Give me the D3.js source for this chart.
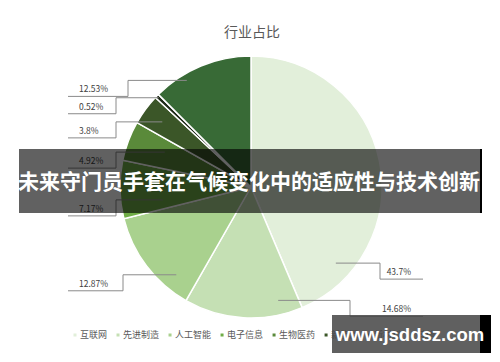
<!DOCTYPE html>
<html>
<head>
<meta charset="utf-8">
<script src="https://cdn.jsdelivr.net/npm/d3@7/dist/d3.min.js"></script>
<style>
  body { margin: 0; background: #fff; }
  svg { display: block; }
</style>
</head>
<body>
<div id="chart"></div>
<script>
// chart data
const categories = ['互联网', '先进制造', '人工智能', '电子信息', '生物医药', '新能源', '新材料', '其他'];
const shares = [43.7, 14.68, 12.87, 7.17, 4.92, 3.8, 0.52, 12.53];
const labels = ['43.7%', '14.68%', '12.87%', '7.17%', '4.92%', '3.8%', '0.52%', '12.53%'];

const title = '行业占比';
const banner = '未来守门员手套在气候变化中的适应性与技术创新';
const watermark = 'www.jsddsz.com';

const SLICE_COLORS = [
  '#e2efda', // 互联网
  '#c5e0b4', // 先进制造
  '#a9d18e', // 人工智能
  '#70ad47', // 电子信息
  '#5a8a3a', // 生物医药
  '#3b5628', // 新能源
  '#1f2a18', // 新材料
  '#386a36', // 其他
];

// leader line spots: t = where inside the slice's angle, f = share of the radius,
// elbow = x offset of the bend from the pie centre
const LEADERS = [
  { t: 0.84, f: 0.87, elbow: 129 },
  { t: 0.18, f: 0.89, elbow: 99 },
  { t: 0.23, f: 0.88, elbow: -128 },
  { t: 0.22, f: 0.68, elbow: -135 },
  { t: 0.58, f: 0.71, elbow: -135 },
  { t: 0.5, f: 0.84, elbow: -135 },
  { t: 0.5, f: 0.98, elbow: -135 },
  { t: 0.31, f: 0.95, elbow: -123 },
];

const width = 500, height = 362;
const cx = 251, cy = 187, radius = 131;
const FONT = '"Noto Sans CJK SC", "Noto Sans", sans-serif';

const svg = d3.select('#chart')
  .append('svg')
  .attr('width', width)
  .attr('height', height)
  .attr('viewBox', [0, 0, width, height]);

svg.append('text')
  .attr('x', 252)
  .attr('y', 37)
  .attr('text-anchor', 'middle')
  .attr('font-family', FONT)
  .attr('font-size', 14)
  .attr('fill', '#595959')
  .text(title);

const pie = d3.pie().sort(null).value((d) => d);
const arcs = pie(shares);
const arc = d3.arc().innerRadius(0).outerRadius(radius);

const g = svg.append('g').attr('transform', `translate(${cx},${cy})`);

g.selectAll('path')
  .data(arcs)
  .join('path')
  .attr('d', arc)
  .attr('fill', (d, i) => SLICE_COLORS[i])
  .attr('stroke', '#fff')
  .attr('stroke-width', 1.5);

// leader lines + percentage labels
const leader = g.append('g');
arcs.forEach((d, i) => {
  const spot = LEADERS[i];
  const a = d.startAngle + (d.endAngle - d.startAngle) * spot.t;
  const px = Math.sin(a) * radius * spot.f;
  const py = -Math.cos(a) * radius * spot.f;
  const underY = py + 16;
  const left = spot.elbow < 0;
  const outerX = left ? -183 : 172;

  leader.append('path')
    .attr('d', `M${px},${py}H${spot.elbow}V${underY}H${outerX}`)
    .attr('fill', 'none')
    .attr('stroke', '#8a8a8a')
    .attr('stroke-width', 1);

  leader.append('text')
    .attr('x', left ? -172 : 160)
    .attr('y', underY - 4)
    .attr('text-anchor', left ? 'start' : 'end')
    .attr('font-family', FONT)
    .attr('font-size', 8.5)
    .attr('fill', '#404040')
    .text(labels[i]);
});

// legend
const legend = svg.append('g').attr('transform', 'translate(75,335)');
let lx = 0;
categories.forEach((name, i) => {
  const item = legend.append('g').attr('transform', `translate(${lx},0)`);
  item.append('rect')
    .attr('x', -1.5).attr('y', -1.5)
    .attr('width', 3).attr('height', 3)
    .attr('fill', SLICE_COLORS[i]);
  const t = item.append('text')
    .attr('x', 5)
    .attr('y', 3)
    .attr('font-family', FONT)
    .attr('font-size', 9)
    .attr('fill', '#595959')
    .text(name);
  lx += 5 + t.node().getComputedTextLength() + 11;
});

// dark banner across the chart
svg.append('rect')
  .attr('x', 19).attr('y', 149)
  .attr('width', 461).attr('height', 64)
  .attr('fill', 'rgba(0,0,0,0.62)');
svg.append('rect')
  .attr('x', 480).attr('y', 149)
  .attr('width', 2).attr('height', 64)
  .attr('fill', '#000');
svg.append('text')
  .attr('x', 249)
  .attr('y', 189)
  .attr('text-anchor', 'middle')
  .attr('font-family', FONT)
  .attr('font-weight', 700)
  .attr('font-size', 21)
  .attr('fill', '#fff')
  .text(banner);

// watermark box
svg.append('rect')
  .attr('x', 332).attr('y', 315)
  .attr('width', 148).attr('height', 38)
  .attr('fill', 'rgba(70,70,70,0.86)');
svg.append('rect')
  .attr('x', 480).attr('y', 315)
  .attr('width', 11).attr('height', 38)
  .attr('fill', '#000');
svg.append('text')
  .attr('x', 410)
  .attr('y', 341)
  .attr('text-anchor', 'middle')
  .attr('font-family', '"Liberation Sans", Arial, sans-serif')
  .attr('font-weight', 700)
  .attr('font-size', 18.5)
  .attr('fill', '#fff')
  .text(watermark);
</script>
</body>
</html>
